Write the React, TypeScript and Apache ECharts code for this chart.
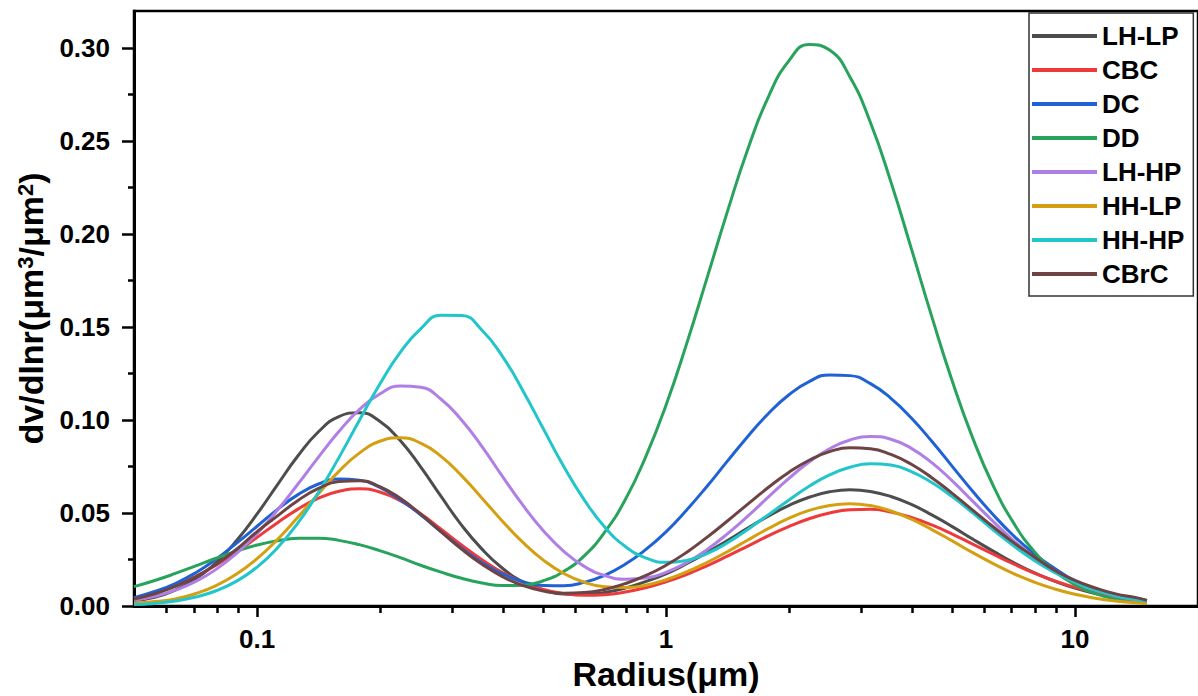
import React, { useEffect, useRef } from "react";
import * as echarts from "echarts";

const radius = [
  0.05, 0.0562, 0.0631, 0.0708, 0.0794, 0.0891, 0.1, 0.1122, 0.1259, 0.1413,
  0.1585, 0.1778, 0.1995, 0.2239, 0.2512, 0.2818, 0.3162, 0.3548, 0.3981, 0.4467,
  0.5012, 0.5623, 0.631, 0.7079, 0.7943, 0.8913, 1, 1.122, 1.259, 1.413,
  1.585, 1.778, 1.995, 2.239, 2.512, 2.818, 3.162, 3.548, 3.981, 4.467,
  5.012, 5.623, 6.31, 7.079, 7.943, 8.913, 10, 11.22, 12.59, 14.13,
  15,
];

const lhlp = [
  0.0030, 0.0047, 0.0086, 0.0147, 0.0234, 0.0352, 0.0495, 0.0653, 0.0808, 0.0937,
  0.1019, 0.1040, 0.0993, 0.0890, 0.0748, 0.0589, 0.0435, 0.0306, 0.0203, 0.0130,
  0.0086, 0.0065, 0.0062, 0.0073, 0.0096, 0.0131, 0.0173, 0.0227, 0.0287, 0.0352,
  0.0419, 0.0483, 0.0540, 0.0585, 0.0614, 0.0625, 0.0616, 0.0589, 0.0546, 0.0490,
  0.0427, 0.0360, 0.0295, 0.0233, 0.0179, 0.0134, 0.0096, 0.0067, 0.0046, 0.0030,
  0.0024,
];
const cbc = [
  0.0040, 0.0073, 0.0110, 0.0159, 0.0220, 0.0291, 0.0369, 0.0448, 0.0521, 0.0580,
  0.0617, 0.0630, 0.0613, 0.0566, 0.0496, 0.0413, 0.0328, 0.0249, 0.0180, 0.0127,
  0.0089, 0.0067, 0.0058, 0.0061, 0.0075, 0.0098, 0.0130, 0.0169, 0.0216, 0.0268,
  0.0322, 0.0377, 0.0427, 0.0469, 0.0500, 0.0517, 0.0520, 0.0505, 0.0476, 0.0436,
  0.0387, 0.0333, 0.0279, 0.0226, 0.0177, 0.0135, 0.0100, 0.0072, 0.0050, 0.0034,
  0.0027,
];
const dc = [
  0.0045, 0.0078, 0.0121, 0.0179, 0.0252, 0.0338, 0.0429, 0.0520, 0.0599, 0.0656,
  0.0683, 0.0677, 0.0638, 0.0572, 0.0490, 0.0399, 0.0311, 0.0233, 0.0173, 0.0131,
  0.0110, 0.0109, 0.0127, 0.0165, 0.0224, 0.0303, 0.0399, 0.0515, 0.0643, 0.0779,
  0.0912, 0.1034, 0.1135, 0.1207, 0.1243, 0.1239, 0.1196, 0.1117, 0.1011, 0.0886,
  0.0751, 0.0617, 0.0491, 0.0378, 0.0282, 0.0203, 0.0135, 0.0093, 0.0060, 0.0040,
  0.0030,
];
const dd = [
  0.0104, 0.0137, 0.0175, 0.0216, 0.0257, 0.0295, 0.0328, 0.0351, 0.0364, 0.0365,
  0.0353, 0.0330, 0.0298, 0.0260, 0.0219, 0.0182, 0.0149, 0.0124, 0.0110, 0.0112,
  0.0136, 0.0186, 0.0270, 0.0397, 0.0570, 0.0801, 0.1080, 0.1407, 0.1762, 0.2121,
  0.2457, 0.2736, 0.2930, 0.3020, 0.2990, 0.2845, 0.2600, 0.2281, 0.1922, 0.1556,
  0.1210, 0.0904, 0.0648, 0.0447, 0.0295, 0.0188, 0.0115, 0.0067, 0.0038, 0.0021,
  0.0015,
];
const lhhp = [
  0.0031, 0.0052, 0.0085, 0.0132, 0.0197, 0.0283, 0.0390, 0.0516, 0.0656, 0.0801,
  0.0938, 0.1056, 0.1140, 0.1183, 0.1176, 0.1112, 0.1000, 0.0857, 0.0697, 0.0542,
  0.0405, 0.0294, 0.0213, 0.0164, 0.0144, 0.0150, 0.0181, 0.0233, 0.0303, 0.0388,
  0.0483, 0.0585, 0.0685, 0.0774, 0.0846, 0.0893, 0.0912, 0.0897, 0.0848, 0.0771,
  0.0673, 0.0564, 0.0455, 0.0352, 0.0262, 0.0187, 0.0128, 0.0085, 0.0054, 0.0033,
  0.0025,
];
const hhlp = [
  0.0015, 0.0024, 0.0038, 0.0067, 0.0110, 0.0172, 0.0255, 0.0358, 0.0478, 0.0604,
  0.0724, 0.0822, 0.0886, 0.0905, 0.0876, 0.0805, 0.0701, 0.0580, 0.0456, 0.0342,
  0.0247, 0.0175, 0.0128, 0.0103, 0.0099, 0.0112, 0.0141, 0.0183, 0.0234, 0.0292,
  0.0355, 0.0416, 0.0471, 0.0514, 0.0541, 0.0550, 0.0540, 0.0511, 0.0467, 0.0411,
  0.0350, 0.0287, 0.0228, 0.0174, 0.0129, 0.0092, 0.0063, 0.0042, 0.0027, 0.0017,
  0.0013,
];
const hhhp = [
  0.0008, 0.0014, 0.0027, 0.0048, 0.0082, 0.0134, 0.0209, 0.0313, 0.0447, 0.0611,
  0.0798, 0.0998, 0.1193, 0.1364, 0.1491, 0.1564, 0.1563, 0.1483, 0.1343, 0.1158,
  0.0953, 0.0750, 0.0571, 0.0425, 0.0321, 0.0259, 0.0235, 0.0245, 0.0282, 0.0340,
  0.0412, 0.0490, 0.0569, 0.0644, 0.0705, 0.0746, 0.0765, 0.0758, 0.0723, 0.0664,
  0.0588, 0.0501, 0.0410, 0.0324, 0.0246, 0.0180, 0.0127, 0.0086, 0.0056, 0.0035,
  0.0027,
];
const cbrc = [
  0.0038, 0.0066, 0.0105, 0.0157, 0.0225, 0.0305, 0.0400, 0.0485, 0.0568, 0.0632,
  0.0669, 0.0674, 0.0642, 0.0579, 0.0494, 0.0400, 0.0306, 0.0224, 0.0158, 0.0110,
  0.0080, 0.0068, 0.0072, 0.0089, 0.0120, 0.0163, 0.0219, 0.0288, 0.0369, 0.0457,
  0.0548, 0.0637, 0.0718, 0.0784, 0.0830, 0.0851, 0.0846, 0.0815, 0.0762, 0.0690,
  0.0606, 0.0516, 0.0426, 0.0341, 0.0265, 0.0192, 0.0138, 0.0097, 0.0065, 0.0045,
  0.0030,
];

const seriesNames = ["LH-LP", "CBC", "DC", "DD", "LH-HP", "HH-LP", "HH-HP", "CBrC"];
const seriesValues = [lhlp, cbc, dc, dd, lhhp, hhlp, hhhp, cbrc];
const seriesColors = ["#4d4d4d", "#ee3a3a", "#1f62d6", "#28a35c", "#b07fe6", "#d4a012", "#22c5c9", "#6e4343"];

const xMajorTicks = [0.1, 1, 10];
const xMinorTicks = [0.06, 0.07, 0.08, 0.09, 0.2, 0.3, 0.4, 0.5, 0.6, 0.7, 0.8, 0.9, 2, 3, 4, 5, 6, 7, 8, 9];
const yMajorTicks = [0, 0.05, 0.1, 0.15, 0.2, 0.25, 0.3];
const yMinorTicks = [0.025, 0.075, 0.125, 0.175, 0.225, 0.275];

const FONT = "'Liberation Sans', Arial, Helvetica, sans-serif";

export default function App() {
  const ref = useRef<HTMLDivElement>(null);

  useEffect(() => {
    if (!ref.current) return;
    const chart = echarts.init(ref.current, null, { renderer: "svg" });
    const tickLine = { color: "#000", width: 2.5 };
    const labelStyle = { fontSize: 26, fontWeight: "bold" as const, fontFamily: FONT, color: "#000" };

    const option: any = {
      animation: false,
      backgroundColor: "#fff",
      grid: {
        left: 134,
        top: 11,
        right: -6,
        bottom: 90,
        show: true,
        borderColor: "#000",
        borderWidth: 2.5,
        backgroundColor: "transparent",
      },
      legend: {
        orient: "vertical",
        left: 1029,
        top: 13,
        padding: [10, 9, 9, 3],
        itemGap: 8,
        itemWidth: 65,
        itemHeight: 4,
        icon: "rect",
        borderColor: "#333",
        borderWidth: 1.5,
        selectedMode: false,
        textStyle: labelStyle,
        data: seriesNames,
      },
      xAxis: [
        {
          type: "log",
          logBase: 10,
          min: 0.05,
          max: 20,
          position: "bottom",
          axisLine: { show: true, onZero: false, lineStyle: { color: "#000", width: 3 } },
          axisTick: { show: true, inside: false, length: 11, lineStyle: tickLine, customValues: xMajorTicks },
          axisLabel: {
            ...labelStyle,
            margin: 20,
            customValues: xMajorTicks,
            formatter: (v: number) => (v < 1 ? v.toFixed(1) : v.toFixed(0)),
          },
          splitLine: { show: false },
          minorTick: { show: false },
          name: "Radius(μm)",
          nameLocation: "middle",
          nameGap: 46,
          nameTextStyle: { fontSize: 34, fontWeight: "bold", fontFamily: FONT, color: "#000" },
        },
        {
          type: "log",
          logBase: 10,
          min: 0.05,
          max: 20,
          position: "bottom",
          axisLine: { show: false, onZero: false },
          axisTick: { show: true, inside: false, length: 7, lineStyle: tickLine, customValues: xMinorTicks },
          axisLabel: { show: false },
          splitLine: { show: false },
        },
      ],
      yAxis: [
        {
          type: "value",
          min: 0,
          max: 0.32,
          position: "left",
          axisLine: { show: true, onZero: false, lineStyle: { color: "#000", width: 3 } },
          axisTick: { show: true, inside: false, length: 12, lineStyle: tickLine, customValues: yMajorTicks },
          axisLabel: {
            ...labelStyle,
            margin: 24,
            customValues: yMajorTicks,
            formatter: (v: number) => v.toFixed(2),
          },
          splitLine: { show: false },
          name: "dv/dlnr(μm{sup|3}/μm{sup|2})",
          nameLocation: "middle",
          nameGap: 82,
          nameRotate: 90,
          nameTextStyle: {
            fontSize: 34,
            fontWeight: "bold",
            fontFamily: FONT,
            color: "#000",
            rich: {
              sup: { fontSize: 22, fontWeight: "bold", fontFamily: FONT, color: "#000", verticalAlign: "top" },
            },
          },
        },
        {
          type: "value",
          min: 0,
          max: 0.32,
          position: "left",
          axisLine: { show: false, onZero: false },
          axisTick: { show: true, inside: false, length: 6, lineStyle: tickLine, customValues: yMinorTicks },
          axisLabel: { show: false },
          splitLine: { show: false },
        },
      ],
      series: seriesNames.map((name, i) => ({
        name,
        type: "line",
        xAxisIndex: 0,
        yAxisIndex: 0,
        smooth: true,
        symbol: "none",
        showSymbol: false,
        data: radius.map((r, j) => [r, seriesValues[i][j]]),
        lineStyle: { width: 3, color: seriesColors[i] },
        itemStyle: { color: seriesColors[i] },
      })),
    };

    chart.setOption(option);
    return () => chart.dispose();
  }, []);

  return (
    <div
      ref={ref}
      style={{ position: "absolute", left: 0, top: 0, width: 1198, height: 696, background: "#fff" }}
    />
  );
}
